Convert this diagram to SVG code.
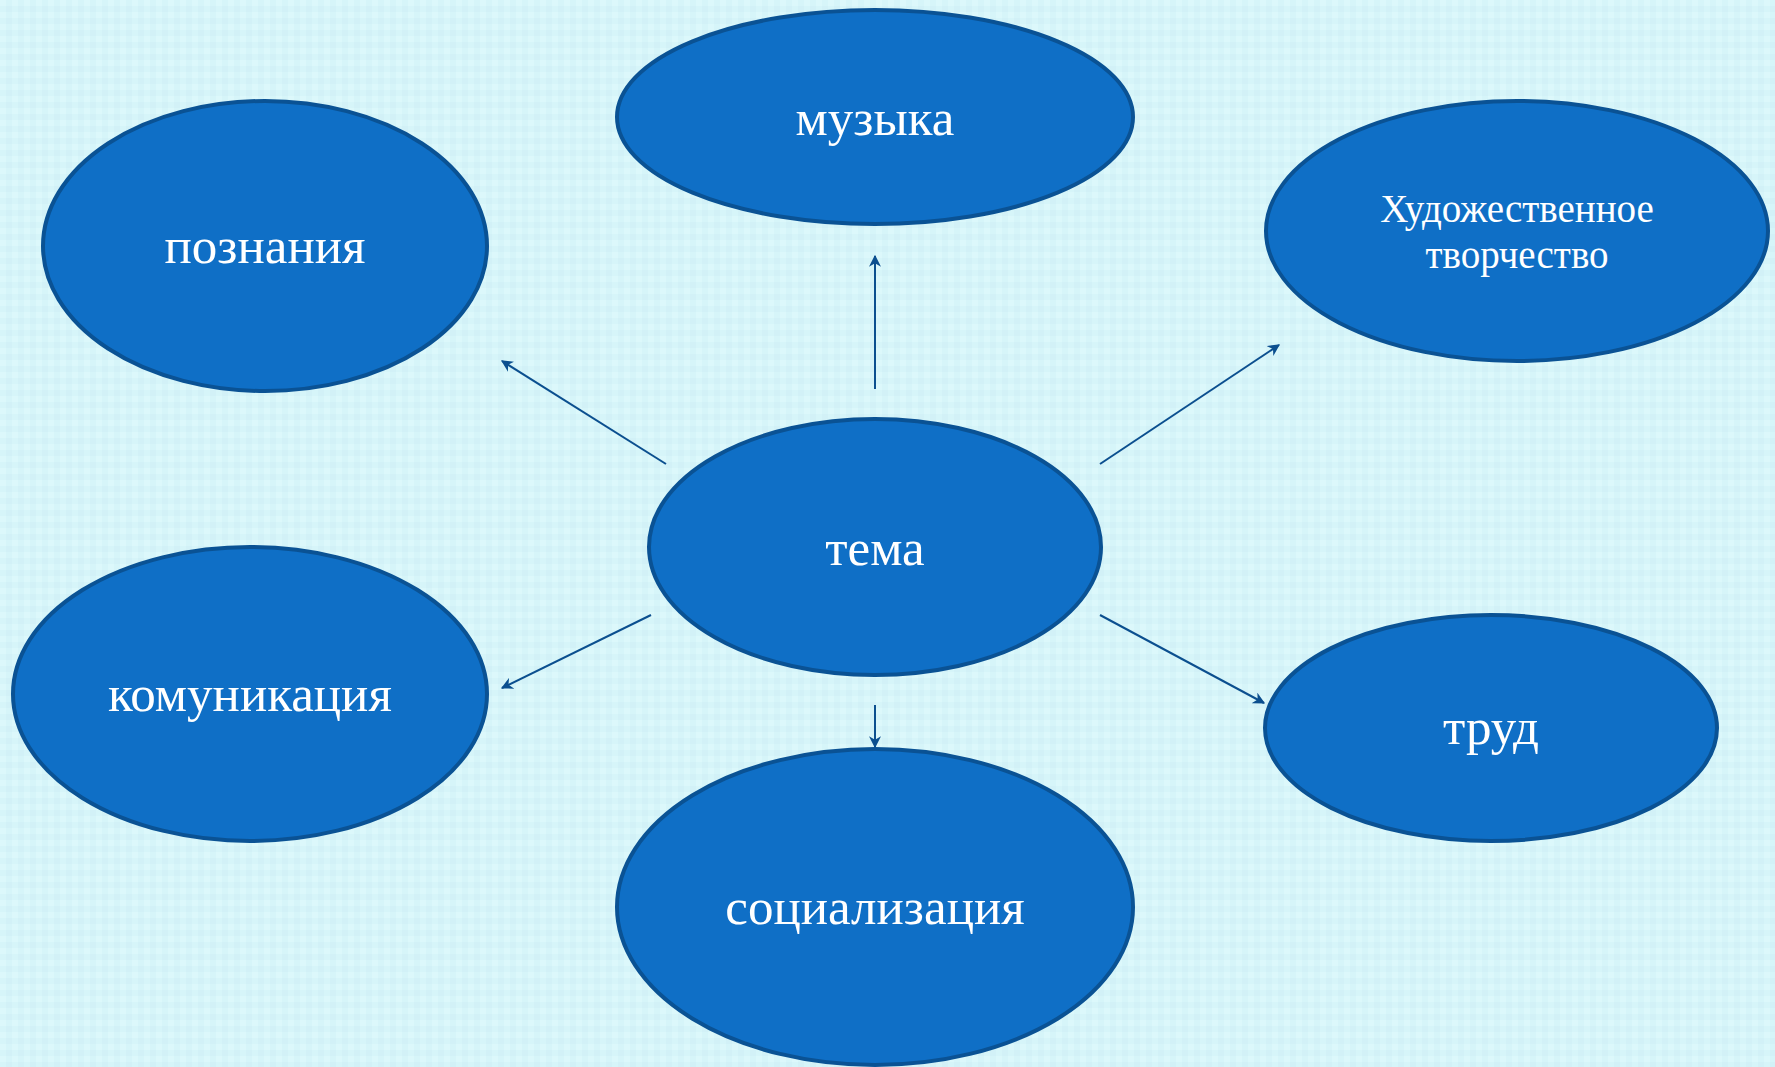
<svg xmlns="http://www.w3.org/2000/svg" width="1775" height="1067" viewBox="0 0 1775 1067">
<defs>
<pattern id="bg" width="12" height="12" patternUnits="userSpaceOnUse">
<rect width="12" height="12" fill="#d6f5f9"/>
<rect width="6" height="6" fill="#dcf8fb"/>
<rect x="6" y="6" width="6" height="6" fill="#d2f1f7"/>
</pattern>
<marker id="ah" viewBox="0 0 10 10" refX="9" refY="5" markerWidth="12" markerHeight="12" orient="auto" markerUnits="userSpaceOnUse">
<path d="M0,0 L10,5 L0,10 L3,5 z" fill="#0b4f8f"/>
</marker>
<style>
.n ellipse{fill:#0f6fc6;stroke:#0a5294;stroke-width:4}
.n text{fill:#ffffff;font-family:"Liberation Serif","DejaVu Serif",serif;font-size:51px;text-anchor:middle}
.n text.s{font-size:39px}
#edges line{stroke:#0b4f8f;stroke-width:2;marker-end:url(#ah)}
</style>
</defs>
<rect width="1775" height="1067" fill="url(#bg)"/>
<g id="edges">
<line x1="875" y1="389" x2="875" y2="256"/>
<line x1="666" y1="464" x2="502" y2="361"/>
<line x1="1100" y1="464" x2="1279" y2="345"/>
<line x1="651" y1="615" x2="502" y2="688"/>
<line x1="1100" y1="615" x2="1264" y2="703"/>
<line x1="875" y1="705" x2="875" y2="747"/>
</g>
<g id="n-muzyka" class="n"><ellipse cx="875" cy="117" rx="258" ry="107"/><text x="875" y="135">музыка</text></g>
<g id="n-poznaniya" class="n"><ellipse cx="265" cy="246" rx="222" ry="145"/><text x="265" y="263">познания</text></g>
<g id="n-hud" class="n"><ellipse cx="1517" cy="231" rx="251" ry="130"/><text class="s" x="1517" y="222">Художественное</text><text class="s" x="1517" y="268">творчество</text></g>
<g id="n-tema" class="n"><ellipse cx="875" cy="547" rx="226" ry="128"/><text x="875" y="565">тема</text></g>
<g id="n-komm" class="n"><ellipse cx="250" cy="694" rx="237" ry="147"/><text x="250" y="711">комуникация</text></g>
<g id="n-trud" class="n"><ellipse cx="1491" cy="728" rx="226" ry="113"/><text x="1491" y="744">труд</text></g>
<g id="n-soc" class="n"><ellipse cx="875" cy="907" rx="258" ry="158"/><text x="875" y="924">социализация</text></g>
</svg>
